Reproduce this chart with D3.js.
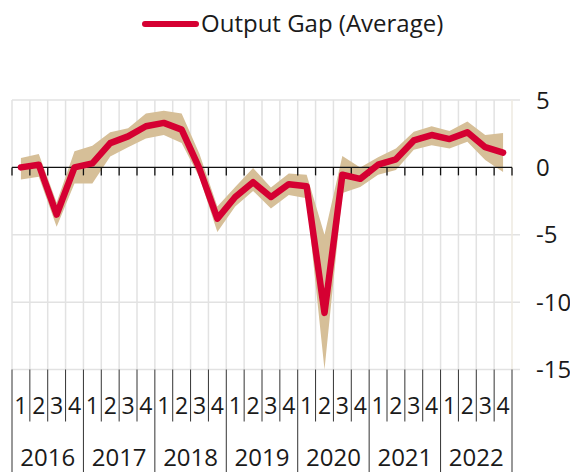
<!DOCTYPE html>
<html>
<head>
<meta charset="utf-8">
<script src="https://cdn.jsdelivr.net/npm/d3@7"></script>
<style>
  html, body { margin: 0; padding: 0; background: #fff; }
  svg { display: block; font-family: "Open Sans", sans-serif; }
</style>
</head>
<body>
<svg id="chart" width="570" height="472"></svg>
<script>
// Quarterly output gap, 2016 Q1 – 2022 Q4
const years = ["2016", "2017", "2018", "2019", "2020", "2021", "2022"];
const quarters = ["1", "2", "3", "4"];
const average = [0.0, 0.2, -3.5, 0.0, 0.3, 1.8, 2.3, 3.05, 3.3, 2.8, -0.1, -3.8,
                 -2.2, -1.1, -2.2, -1.25, -1.4, -10.8, -0.55, -0.85, 0.2, 0.6, 2.0, 2.4,
                 2.1, 2.6, 1.5, 1.1];
const upper = [0.7, 1.0, -2.6, 1.2, 1.6, 2.6, 2.9, 4.0, 4.2, 4.0, 1.0, -2.9,
               -1.45, -0.05, -1.5, -0.45, -0.55, -5.0, 0.85, 0.0, 0.75, 1.4, 2.65, 3.05,
               2.7, 3.4, 2.4, 2.55];
const lower = [-0.9, -0.7, -4.4, -1.2, -1.2, 0.8, 1.5, 2.15, 2.4, 1.8, -0.75, -4.8,
               -2.9, -1.75, -3.05, -2.05, -2.3, -15.0, -1.9, -1.45, -0.55, -0.2, 1.3, 1.65,
               1.4, 1.9, 0.55, -0.35];
const yTicks = [5, 0, -5, -10, -15];
const seriesName = "Output Gap (Average)";

const svg = d3.select("#chart");
const plotLeft = 12, plotRight = 512, plotTop = 100, plotBottom = 369.5;

const periods = [];
years.forEach(yr => quarters.forEach(q => periods.push(yr + "Q" + q)));

const x = d3.scaleBand().domain(periods).range([plotLeft, plotRight]).padding(0);
const y = d3.scaleLinear().domain([-15, 5]).range([plotBottom, plotTop]);
const cx = i => x(periods[i]) + x.bandwidth() / 2;
const edges = periods.map(p => x(p)).concat([plotRight]);

// grid
const grid = svg.append("g");
yTicks.filter(t => t !== 0).forEach(t => {
  grid.append("line")
    .attr("x1", plotLeft).attr("x2", 520)
    .attr("y1", y(t)).attr("y2", y(t))
    .attr("stroke", "#e2e2e2").attr("stroke-width", 1.5);
});
edges.forEach((xx, i) => {
  grid.append("line")
    .attr("x1", xx).attr("x2", xx)
    .attr("y1", plotTop).attr("y2", plotBottom)
    .attr("stroke", i === edges.length - 1 ? "#eeeae0" : "#e2e2e2")
    .attr("stroke-width", 1.5);
});

// uncertainty band
const area = d3.area()
  .x((d, i) => cx(i))
  .y0((d, i) => y(lower[i]))
  .y1((d, i) => y(upper[i]));
svg.append("path")
  .datum(average)
  .attr("d", area)
  .attr("fill", "#d6bf98");

// zero axis with ticks at quarter boundaries
const zero = svg.append("g");
zero.append("line")
  .attr("x1", plotLeft).attr("x2", plotRight)
  .attr("y1", y(0)).attr("y2", y(0))
  .attr("stroke", "#111").attr("stroke-width", 1.3);
edges.forEach(xx => {
  zero.append("line")
    .attr("x1", xx).attr("x2", xx)
    .attr("y1", y(0)).attr("y2", y(0) + 8)
    .attr("stroke", "#111").attr("stroke-width", 1.3);
});

// average line
const line = d3.line().x((d, i) => cx(i)).y(d => y(d));
svg.append("path")
  .datum(average)
  .attr("d", line)
  .attr("fill", "none")
  .attr("stroke", "#d50032")
  .attr("stroke-width", 6.5)
  .attr("stroke-linejoin", "round")
  .attr("stroke-linecap", "round");

// y labels on the right
yTicks.forEach(t => {
  svg.append("text")
    .attr("x", 536).attr("y", y(t))
    .attr("dy", "0.36em")
    .attr("font-size", 24)
    .attr("fill", "#1a1a1a")
    .text(t);
});

// category axis: quarters and years
const cat = svg.append("g");
const qRowBottom = 421.5;
periods.forEach((p, i) => {
  const xx = x(p);
  const isYear = i % 4 === 0;
  cat.append("line")
    .attr("x1", xx).attr("x2", xx)
    .attr("y1", plotBottom).attr("y2", isYear ? 472 : qRowBottom)
    .attr("stroke", "#333").attr("stroke-width", 1);
  cat.append("text")
    .attr("x", cx(i)).attr("y", 414)
    .attr("text-anchor", "middle")
    .attr("font-size", 23)
    .attr("fill", "#1a1a1a")
    .text(quarters[i % 4]);
});
cat.append("line")
  .attr("x1", plotRight).attr("x2", plotRight)
  .attr("y1", plotBottom).attr("y2", 472)
  .attr("stroke", "#333").attr("stroke-width", 1);
years.forEach((yr, j) => {
  const x0 = edges[j * 4];
  const x1 = edges[j * 4 + 4];
  cat.append("text")
    .attr("x", (x0 + x1) / 2).attr("y", 466)
    .attr("text-anchor", "middle")
    .attr("font-size", 24)
    .attr("fill", "#1a1a1a")
    .text(yr);
});

// legend
const lg = svg.append("g");
lg.append("line")
  .attr("x1", 145).attr("x2", 196)
  .attr("y1", 24).attr("y2", 24)
  .attr("stroke", "#d50032").attr("stroke-width", 6)
  .attr("stroke-linecap", "round");
lg.append("text")
  .attr("x", 201).attr("y", 31.5)
  .attr("font-size", 24)
  .attr("fill", "#1a1a1a")
  .text(seriesName);
</script>
</body>
</html>
